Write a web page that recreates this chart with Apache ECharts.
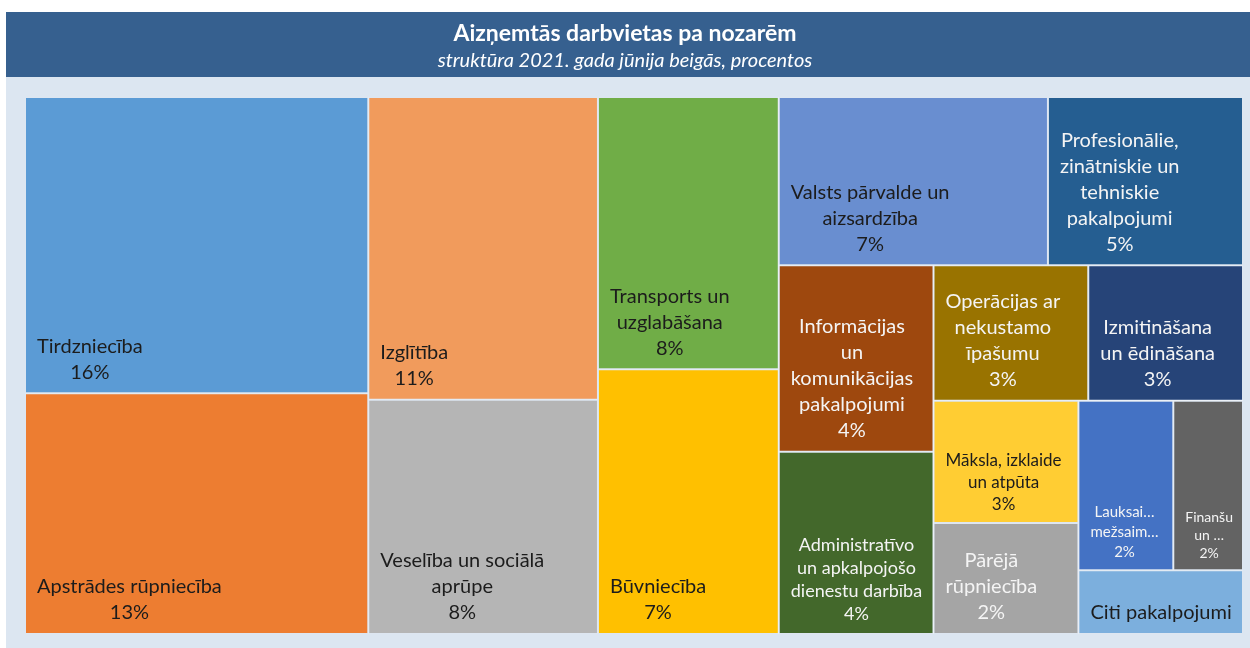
<!DOCTYPE html>
<html lang="lv">
<head>
<meta charset="UTF-8">
<title>Aizņemtās darbvietas pa nozarēm</title>
<script src="https://cdn.jsdelivr.net/npm/echarts@6/dist/echarts.min.js"></script>
<style>
html, body { margin: 0; padding: 0; background: #fff; }
#chart { width: 1250px; height: 648px; }
</style>
</head>
<body>
<div id="chart"></div>
<script>
// nozares (teksts tā, kā tas redzams attēlā)
var sectors = [
    'Tirdzniecība',
    'Apstrādes rūpniecība',
    'Izglītība',
    'Veselība un sociālā\naprūpe',
    'Transports un\nuzglabāšana',
    'Būvniecība',
    'Valsts pārvalde un\naizsardzība',
    'Profesionālie,\nzinātniskie un\ntehniskie\npakalpojumi',
    'Informācijas\nun\nkomunikācijas\npakalpojumi',
    'Administratīvo\nun apkalpojošo\ndienestu darbība',
    'Operācijas ar\nnekustamo\nīpašumu',
    'Izmitināšana\nun ēdināšana',
    'Māksla, izklaide\nun atpūta',
    'Pārējā\nrūpniecība',
    'Lauksai…\nmežsaim…',
    'Finanšu\nun …',
    'Citi pakalpojumi'
];
// īpatsvars, %
var shares = [15.5, 12.6, 10.6, 8.2, 7.5, 7.3, 6.9, 5.0, 4.4, 4.3, 3.2, 3.2, 2.7, 2.45, 2.45, 1.8, 1.6];
var showPct = [1, 1, 1, 1, 1, 1, 1, 1, 1, 1, 1, 1, 1, 1, 1, 1, 0];

// kur sākas nākamā ligzdotā grupa (lai izkārtojums sakristu ar oriģinālu)
var splits = [4, 6, 8, 10, 12, 14];

var colors = ['#5b9bd5', '#ed7d31', '#f19b5c', '#b5b5b5', '#70ad47', '#ffc000', '#698ed0', '#255e91',
    '#9e480e', '#43682b', '#997300', '#264478', '#ffcd33', '#a5a5a5', '#4472c4', '#636363', '#7cafdd'];
var dark = '#1c1c1c', light = '#f4f4f4';
var textColors = [dark, dark, dark, dark, dark, dark, dark, light, light, light, light, light, dark, light, light, light, dark];
var fontSizes = [20, 20, 20, 20, 20, 20, 20, 20, 20, 18, 20, 20, 17, 20, 15, 14, 20];

var ctx = document.createElement('canvas').getContext('2d');
function blockWidth(lines, fs) {
    ctx.font = fs + 'px Lato';
    var w = 0;
    lines.forEach(function (l) { w = Math.max(w, ctx.measureText(l).width); });
    return w;
}

function leaf(i) {
    var lines = sectors[i].split('\n');
    if (showPct[i]) lines.push(Math.round(shares[i]) + '%');
    var fs = fontSizes[i];
    return {
        name: sectors[i],
        value: shares[i],
        itemStyle: { color: colors[i], borderWidth: 1, borderColor: '#dde6f1' },
        label: {
            formatter: lines.join('\n'),
            position: [11 + blockWidth(lines, fs) / 2, '100%'],
            align: 'center',
            verticalAlign: 'bottom',
            padding: [0, 0, 7, 0],
            fontSize: fs,
            lineHeight: Math.round(fs * 1.3),
            color: textColors[i]
        }
    };
}

function build(from, k) {
    var end = k < splits.length ? splits[k] : sectors.length;
    var out = [];
    for (var i = from; i < end; i++) out.push(leaf(i));
    if (k < splits.length) out.push({ name: 'g' + k, children: build(end, k + 1) });
    return out;
}

var chart = echarts.init(document.getElementById('chart'));
chart.setOption({
    backgroundColor: 'transparent',
    textStyle: { fontFamily: 'Lato' },
    graphic: [
        { type: 'rect', shape: { x: 6, y: 12, width: 1244, height: 65 }, style: { fill: '#36608f' } },
        { type: 'rect', shape: { x: 6, y: 77, width: 1244, height: 571 }, style: { fill: '#dce6f1' } }
    ],
    title: {
        text: 'Aizņemtās darbvietas pa nozarēm',
        subtext: 'struktūra 2021. gada jūnija beigās, procentos',
        left: 'center',
        top: 17,
        itemGap: 6,
        textStyle: { color: '#fff', fontSize: 23, fontWeight: 'bold', fontFamily: 'Lato' },
        subtextStyle: { color: '#fff', fontSize: 20, fontStyle: 'italic', fontFamily: 'Lato' }
    },
    series: [{
        type: 'treemap',
        left: 25, top: 97, right: 7, bottom: 14,
        sort: false,
        squareRatio: 1.3,
        roam: false,
        nodeClick: false,
        breadcrumb: { show: false },
        itemStyle: { borderWidth: 0, gapWidth: 0 },
        label: { show: true, fontFamily: 'Lato' },
        data: build(0, 0)
    }]
});
</script>
</body>
</html>
